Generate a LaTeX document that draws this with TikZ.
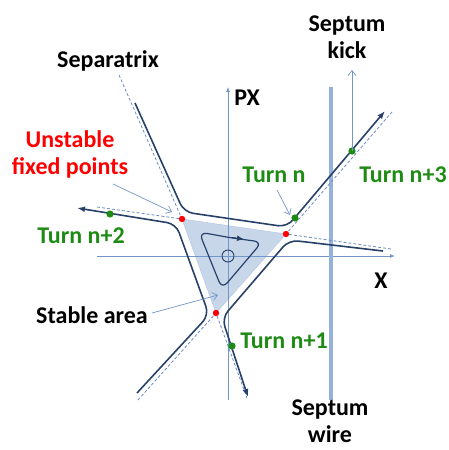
\documentclass[tikz,border=0pt]{standalone}
\usepackage{fontspec}
\setmainfont{Carlito}
\usetikzlibrary{arrows.meta}

\definecolor{axisblue}{RGB}{115,150,200}
\definecolor{wireblue}{RGB}{150,178,216}
\definecolor{orbitblue}{RGB}{40,65,105}
\definecolor{sepblue}{RGB}{105,140,195}
\definecolor{areablue}{RGB}{200,214,234}
\definecolor{turngreen}{RGB}{30,140,20}

\begin{document}
\begin{tikzpicture}[x=1pt, y=-1pt,
    txt/.style={font=\fontsize{24}{27}\selectfont\bfseries, align=center, inner sep=0pt},
    axis/.style={axisblue, line width=0.8pt, -{Latex[length=5pt,width=4pt]}},
    sepline/.style={sepblue, line width=0.8pt, dashed, dash pattern=on 3pt off 2pt},
    orbit/.style={orbitblue, line width=1.6pt, rounded corners=9pt},
    note/.style={axisblue, line width=0.7pt, -{Straight Barb[length=5pt,width=8pt]}},
    turndot/.style={fill=turngreen},
    fixdot/.style={fill=red}]

\useasboundingbox (0,0) rectangle (449,450);

% Fixed points
\coordinate (fpA) at (182,219);
\coordinate (fpB) at (286,234);
\coordinate (fpC) at (216,313);

% Stable area
\filldraw[fill=areablue, draw=areablue!80!sepblue, line width=0.5pt] (fpA) -- (fpB) -- (fpC) -- cycle;

% Axes and septum
\draw[axis] (97,256) -- (395,256);
\draw[axis] (228,400) -- (228,87);
\draw[wireblue, line width=4pt] (331,87) -- (331,400);

% Separatrix
\coordinate (sUL) at (119,75);
\coordinate (sL) at (97,207);
\coordinate (sR) at (391,249);
\coordinate (sUR) at (392,112);
\coordinate (sDL) at (138,400);
\coordinate (sDR) at (247,398);
\draw[sepline] (sUL) -- (fpA) -- (sL);
\draw[sepline] (sR) -- (fpB) -- (sUR);
\draw[sepline] (sDL) -- (fpC) -- (sDR);

% Outer orbits
\draw[orbit, -{Latex[length=8pt,width=6pt]}] (135,103) -- (184,212) -- (287,227) -- (385,111);
\draw[orbit, -{Latex[length=8pt,width=6pt]}] (137,393) -- (209,315) -- (176,224) -- (77,208);
\draw[orbit, -{Latex[length=8pt,width=6pt]}] (383,251) -- (289,240) -- (222,318) -- (248,397);

% Inner orbit
\draw[orbitblue, line width=1.2pt, rounded corners=8pt] (232,238) -- (262,242) -- (222,289) -- (199,232) -- cycle;
\draw[orbitblue, line width=1.2pt, -{Latex[length=7pt,width=6pt]}] (232,237.6) -- (244,239.2);
\draw[orbitblue, line width=0.9pt] (228,256) circle (6);

% Turns
\coordinate (tn) at (295,218);
\coordinate (tn1) at (232,346);
\coordinate (tn2) at (110,214);
\coordinate (tn3) at (352,151);
\foreach \t in {tn, tn1, tn2, tn3}
  \fill[turndot] (\t) circle (3.6);
\foreach \f in {fpA, fpB, fpC}
  \fill[fixdot] (\f) circle (3.2);

% Labels
\node[txt, anchor=base] (sepx) at (108,67) {Separatrix};
\node[txt, red] (unst) at (70,154) {Unstable\\fixed points};
\node[txt, anchor=base, turngreen] (ltn) at (274,182) {Turn n};
\node[txt, anchor=base, turngreen] (ltn3) at (403,182) {Turn n+3};
\node[txt, anchor=base, turngreen] (ltn2) at (81,243) {Turn n+2};
\node[txt, anchor=base, turngreen] (ltn1) at (284,348) {Turn n+1};
\node[txt, anchor=base] (stab) at (92,323) {Stable area};
\node[txt, anchor=base] (lx) at (381,288) {X};
\node[txt, anchor=base] (lpx) at (247,105) {PX};
\node[txt] (kick) at (347,37) {Septum\\kick};
\node[txt] (wire) at (330,421) {Septum\\wire};

% Pointers
\coordinate (unstEnd) at (113,184);
\coordinate (unstTip) at (172,212);
\draw[note] (unstEnd) -- (unstTip);
\coordinate (tnEnd) at (277,190);
\coordinate (tnTip) at (290,215);
\draw[note] (tnEnd) -- (tnTip);
\coordinate (stabEnd) at (152,313);
\coordinate (stabTip) at (218,295);
\draw[note] (stabEnd) -- (stabTip);
\coordinate (kickTip) at (352,70);
\draw[note] (tn3) -- (kickTip);

\end{tikzpicture}
\end{document}
